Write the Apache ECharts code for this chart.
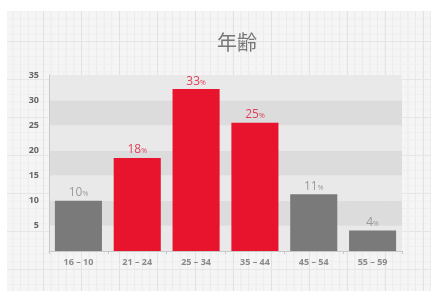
<!DOCTYPE html>
<html><head><meta charset="utf-8">
<script src="https://cdn.jsdelivr.net/npm/echarts@6/dist/echarts.min.js"></script>
<style>
html,body{margin:0;padding:0;background:#fff;}
#card{position:absolute;left:7px;top:11px;width:424px;height:280px;background-color:#f5f5f5;
background-image:
linear-gradient(#e6e6e6 1px, transparent 1px),
linear-gradient(90deg,#e2e2e2 1px, transparent 1px),
linear-gradient(#efefef 1px, transparent 1px),
linear-gradient(90deg,#eaeaea 1px, transparent 1px);
background-size:38px 38px,38px 38px,7.6px 7.6px,7.6px 7.6px;
background-position:0 -8px,-2px 0,0 -8px,-2px 0;}
#chart{position:absolute;left:0;top:0;width:437px;height:291px;}
</style></head>
<body><div id="card"></div><div id="chart"></div>
<script>
var categories = ['16 – 10','21 – 24','25 – 34','35 – 44','45 – 54','55 – 59'];
var values = [10, 18.5, 32.2, 25.5, 11.3, 4.1];
var labelTexts = ['10','18','33','25','11','4'];
var highlighted = [false, true, true, true, false, false];
var yTicks = [0,5,10,15,20,25,30,35];

var RED = '#e8132c', GRAY = '#7a7a7a';
var chart = echarts.init(document.getElementById('chart'));
chart.setOption({
  backgroundColor: 'transparent',
  title: {text: '年齢', left: 232, top: 27, textAlign: 'center',
    textStyle: {fontSize: 20, fontWeight: 'normal', color: '#777', fontFamily: 'Noto Sans CJK JP'}},
  grid: {left: 49, right: 35, top: 75, bottom: 40},
  xAxis: {type: 'category', data: categories,
    axisLine: {lineStyle: {color: '#c8c8c8'}},
    axisTick: {show: true, lineStyle: {color: '#c8c8c8'}, length: 3},
    axisLabel: {color: '#8a8a8a', fontSize: 9, fontFamily: 'Open Sans', fontWeight: 'bold', margin: 7}},
  yAxis: {type: 'value', min: yTicks[0], max: yTicks[yTicks.length-1], interval: 5,
    axisLine: {show: true, lineStyle: {color: '#c8c8c8'}},
    axisTick: {show: false},
    splitLine: {show: false},
    splitArea: {show: true, areaStyle: {color: ['#e9e9e9', '#dcdcdc']}},
    axisLabel: {color: '#666', fontSize: 9, fontFamily: 'Open Sans', fontWeight: 'bold', margin: 10,
      formatter: function(v){ return v === 0 ? '' : String(v); }}},
  series: [{
    type: 'bar', barWidth: '80%',
    data: values.map(function(v, i){
      return {value: v, itemStyle: {color: highlighted[i] ? RED : GRAY},
        label: {show: true, position: 'top', distance: 2,
          formatter: '{n|' + labelTexts[i] + '}{p|%}',
          rich: {n: {fontSize: 12, color: highlighted[i] ? '#e0405a' : '#9a9a9a', fontFamily: 'Open Sans'},
                 p: {fontSize: 7, color: highlighted[i] ? '#e0405a' : '#9a9a9a', fontFamily: 'Open Sans', padding: [3,0,0,0]}}}};
    })
  }]
});
</script></body></html>
